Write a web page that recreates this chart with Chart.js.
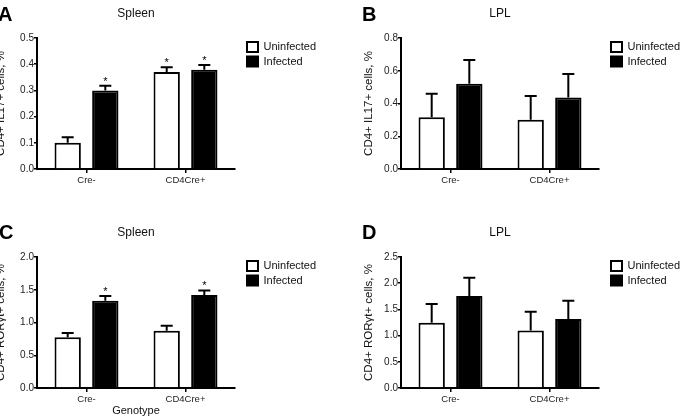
<!DOCTYPE html>
<html>
<head>
<meta charset="utf-8">
<script src="https://cdn.jsdelivr.net/npm/chart.js@4.4.1/dist/chart.umd.min.js"></script>
<style>
  html, body { margin: 0; padding: 0; background: #fff; }
  body { width: 684px; height: 416px; position: relative; overflow: hidden; font-family: "Liberation Sans", Arial, Helvetica, sans-serif; }
  canvas { position: absolute; }
  .tag { position: absolute; font-weight: bold; font-size: 20px; line-height: 20px; color: #000; }
</style>
</head>
<body>
<canvas id="chartA" width="342" height="208" style="left:-22px; top:0px"></canvas>
<canvas id="chartB" width="342" height="208" style="left:342px; top:0px"></canvas>
<canvas id="chartC" width="342" height="208" style="left:-22px; top:219px"></canvas>
<canvas id="chartD" width="342" height="208" style="left:342px; top:219px"></canvas>
<div class="tag" style="left:-2px; top:4px">A</div>
<div class="tag" style="left:362px; top:4px">B</div>
<div class="tag" style="left:-1px; top:222px">C</div>
<div class="tag" style="left:362px; top:222px">D</div>
<script>
// data (mean and upper SEM)
const genotypes = ['Cre-', 'CD4Cre+'];
const seriesNames = ['Uninfected', 'Infected'];

// A - Spleen, IL17
const spleenIL17Uninf = [0.100, 0.370];
const spleenIL17UninfSem = [0.021, 0.018];
const spleenIL17Inf = [0.300, 0.379];
const spleenIL17InfSem = [0.018, 0.018];
const spleenIL17UninfStar = [false, true];
const spleenIL17InfStar = [true, true];
const spleenIL17Ticks = [0, 0.1, 0.2, 0.3, 0.4, 0.5];

// B - LPL, IL17
const lplIL17Uninf = [0.316, 0.301];
const lplIL17UninfSem = [0.144, 0.145];
const lplIL17Inf = [0.521, 0.436];
const lplIL17InfSem = [0.145, 0.144];
const lplIL17Ticks = [0, 0.2, 0.4, 0.6, 0.8];

// C - Spleen, RORgt
const spleenRorUninf = [0.773, 0.875];
const spleenRorUninfSem = [0.067, 0.076];
const spleenRorInf = [1.333, 1.420];
const spleenRorInfSem = [0.072, 0.070];
const spleenRorUninfStar = [false, false];
const spleenRorInfStar = [true, true];
const spleenRorTicks = [0, 0.5, 1.0, 1.5, 2.0];

// D - LPL, RORgt
const lplRorUninf = [1.246, 1.099];
const lplRorUninfSem = [0.357, 0.357];
const lplRorInf = [1.756, 1.317];
const lplRorInfSem = [0.349, 0.349];
const lplRorTicks = [0, 0.5, 1.0, 1.5, 2.0, 2.5];

const FONT = '"Liberation Sans", Arial, Helvetica, sans-serif';

// SEM whiskers (upward only) and significance stars
const errorBars = {
    id: 'errorBars',
    afterDatasetsDraw(chart) {
        const ctx = chart.ctx;
        const yScale = chart.scales.y;
        chart.data.datasets.forEach((ds, di) => {
            const meta = chart.getDatasetMeta(di);
            meta.data.forEach((bar, i) => {
                const top = yScale.getPixelForValue(ds.data[i] + ds.sem[i]);
                ctx.save();
                ctx.strokeStyle = '#000';
                ctx.lineWidth = 2;
                ctx.beginPath();
                ctx.moveTo(bar.x, bar.y);
                ctx.lineTo(bar.x, top);
                ctx.moveTo(bar.x - 6, top);
                ctx.lineTo(bar.x + 6, top);
                ctx.stroke();
                if (ds.stars && ds.stars[i]) {
                    ctx.fillStyle = '#000';
                    ctx.font = '11px ' + FONT;
                    ctx.textAlign = 'center';
                    ctx.textBaseline = 'alphabetic';
                    ctx.fillText('*', bar.x, top - 1);
                }
                ctx.restore();
            });
        });
    }
};

// put the legend a fixed gap right of the plot
const legendGap = {
    id: 'legendGap',
    afterLayout(chart) {
        const lg = chart.legend;
        lg.left = chart.chartArea.right + 12 - lg.options.labels.padding;
    }
};

function makeChart(id, title, yTitle, yTitlePad, xTitle, ticks, uninf, uninfSem, inf, infSem, uninfStar, infStar) {
    const ctx = document.getElementById(id).getContext('2d');
    return new Chart(ctx, {
        type: 'bar',
        data: {
            labels: genotypes,
            datasets: [{
                label: seriesNames[0],
                data: uninf,
                sem: uninfSem,
                stars: uninfStar,
                backgroundColor: '#ffffff',
                borderColor: '#000000',
                borderWidth: 2
            }, {
                label: seriesNames[1],
                data: inf,
                sem: infSem,
                stars: infStar,
                backgroundColor: '#000000',
                borderColor: '#000000',
                borderWidth: 2
            }]
        },
        options: {
            responsive: false,
            animation: false,
            devicePixelRatio: 1,
            categoryPercentage: 0.76,
            barPercentage: 0.7,
            layout: { padding: { left: 0, top: 0, right: 2.4, bottom: 0 } },
            plugins: {
                tooltip: { enabled: false },
                title: {
                    display: true,
                    text: title,
                    fullSize: false,
                    color: '#111',
                    font: { family: FONT, size: 12, weight: 'normal' },
                    padding: { top: 6, bottom: 17.6 }
                },
                legend: {
                    position: 'right',
                    align: 'start',
                    fullSize: false,
                    labels: {
                        boxWidth: 11,
                        boxHeight: 10,
                        padding: 3.5,
                        color: '#111',
                        font: { family: FONT, size: 11 }
                    }
                }
            },
            scales: {
                x: {
                    border: { color: '#000', width: 2 },
                    grid: { offset: false, drawOnChartArea: false, tickLength: 4, color: '#000', lineWidth: 1.5 },
                    ticks: { color: '#222', padding: 2, font: { family: FONT, size: 9.5 } },
                    title: {
                        display: !!xTitle,
                        text: xTitle,
                        color: '#111',
                        font: { family: FONT, size: 11 },
                        padding: { top: 0, bottom: 9 }
                    },
                    afterFit: s => { s.height = 39; }
                },
                y: {
                    min: ticks[0],
                    max: ticks[ticks.length - 1],
                    border: { color: '#000', width: 2 },
                    grid: { drawOnChartArea: false, tickLength: 3, color: '#000', lineWidth: 1.5 },
                    afterBuildTicks: s => { s.ticks = ticks.map(v => ({ value: v })); },
                    ticks: {
                        color: '#222',
                        padding: 0,
                        font: { family: FONT, size: 10 },
                        callback: v => v.toFixed(1)
                    },
                    title: {
                        display: true,
                        text: yTitle,
                        color: '#111',
                        font: { family: FONT, size: 11.5 },
                        padding: { top: yTitlePad, bottom: 0 }
                    },
                    afterFit: s => { s.width = 59; }
                }
            }
        },
        plugins: [errorBars, legendGap]
    });
}

const il17Title = 'CD4+ IL17+ cells, %';
const rorTitle = 'CD4+ ROR\u03B3t+ cells, %';

makeChart('chartA', 'Spleen', il17Title, 16, '', spleenIL17Ticks,
    spleenIL17Uninf, spleenIL17UninfSem, spleenIL17Inf, spleenIL17InfSem, spleenIL17UninfStar, spleenIL17InfStar);
makeChart('chartB', 'LPL', il17Title, 20, '', lplIL17Ticks,
    lplIL17Uninf, lplIL17UninfSem, lplIL17Inf, lplIL17InfSem, null, null);
makeChart('chartC', 'Spleen', rorTitle, 16, 'Genotype', spleenRorTicks,
    spleenRorUninf, spleenRorUninfSem, spleenRorInf, spleenRorInfSem, spleenRorUninfStar, spleenRorInfStar);
makeChart('chartD', 'LPL', rorTitle, 20, '', lplRorTicks,
    lplRorUninf, lplRorUninfSem, lplRorInf, lplRorInfSem, null, null);
</script>
</body>
</html>
